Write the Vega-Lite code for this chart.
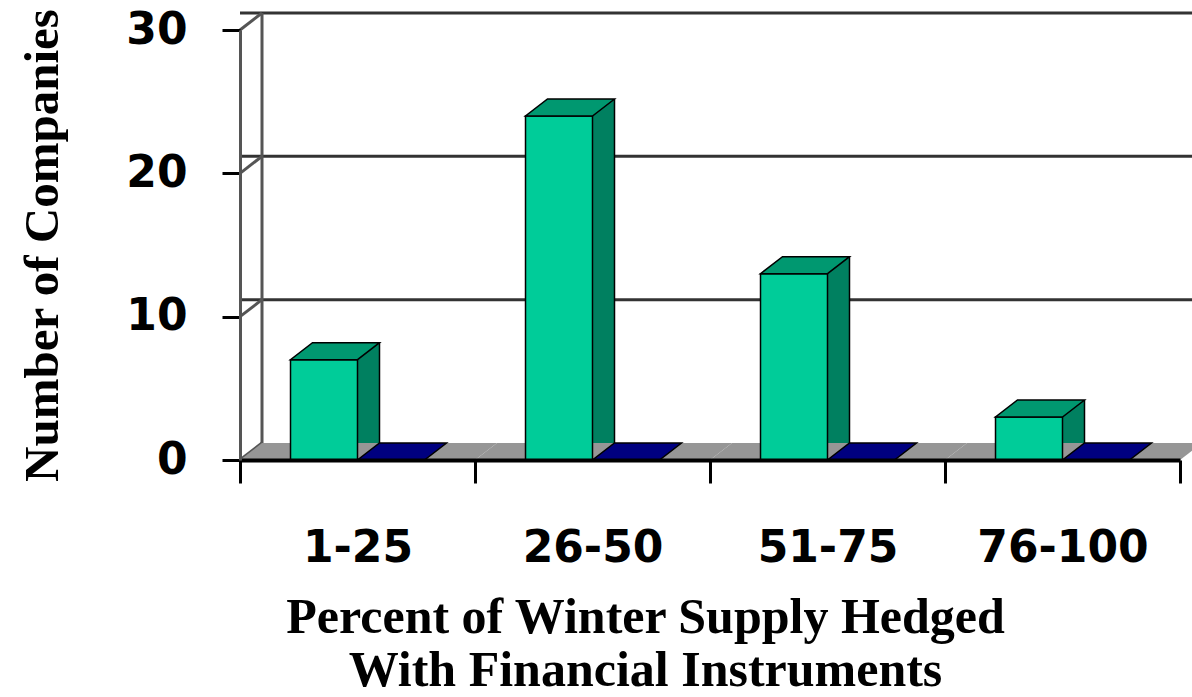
{
  "$schema": "https://vega.github.io/schema/vega-lite/v6.json",
  "width": 940,
  "height": 430,
  "autosize": {"type": "none"},
  "padding": {"left": 240, "top": 30, "right": 12, "bottom": 237},
  "background": "white",
  "config": {
    "view": {"stroke": null},
    "axis": {"grid": false}
  },
  "data": {
    "values": [
      {"range": "1-25", "series": "Series 1", "value": 7},
      {"range": "1-25", "series": "Series 2", "value": 0},
      {"range": "26-50", "series": "Series 1", "value": 24},
      {"range": "26-50", "series": "Series 2", "value": 0},
      {"range": "51-75", "series": "Series 1", "value": 13},
      {"range": "51-75", "series": "Series 2", "value": 0},
      {"range": "76-100", "series": "Series 1", "value": 3},
      {"range": "76-100", "series": "Series 2", "value": 0}
    ]
  },
  "layer": [
    {
      "data": {"values": [{"v": 10}, {"v": 20}, {"v": 30}]},
      "mark": {"type": "rule", "stroke": "#333333", "strokeWidth": 3, "xOffset": 22, "x2Offset": 22, "yOffset": -17},
      "encoding": {
        "y": {"field": "v", "type": "quantitative", "scale": {"domain": [0, 30], "nice": false}}
      }
    },
    {
      "data": {"values": [{"v": 0}]},
      "mark": {"type": "rule", "stroke": "#555555", "strokeWidth": 3, "xOffset": 22, "yOffset": -17, "y2Offset": -17},
      "encoding": {
        "x": {"datum": "1-25", "bandPosition": 0},
        "y": {"datum": 0, "type": "quantitative"},
        "y2": {"datum": 30}
      }
    },
    {
      "data": {"values": [{"v": 0}, {"v": 10}, {"v": 20}, {"v": 30}]},
      "mark": {"type": "point", "shape": "M 0 0 L 22 -17", "size": 4, "filled": false, "stroke": "#555555", "strokeWidth": 3, "opacity": 1},
      "encoding": {
        "x": {"datum": "1-25", "bandPosition": 0},
        "y": {"field": "v", "type": "quantitative"}
      }
    },
    {
      "transform": [{"filter": "datum.series === 'Series 1'"}],
      "mark": {"type": "point", "shape": "M -117.5 0 L 117.5 0 L 139.5 -17 L -95.5 -17 Z", "size": 4, "filled": true, "fill": "#969696", "strokeWidth": 0, "opacity": 1},
      "encoding": {
        "x": {"field": "range", "type": "nominal", "sort": null},
        "y": {"datum": 0, "type": "quantitative"}
      }
    },
    {
      "transform": [{"filter": "datum.series === 'Series 1' && datum.value > 0"}],
      "mark": {"type": "bar", "width": 22, "xOffset": 11, "yOffset": -17, "fill": "#008060"},
      "encoding": {
        "x": {"field": "range", "type": "nominal", "sort": null},
        "y": {"field": "value", "type": "quantitative"}
      }
    },
    {
      "mark": {"type": "bar", "stroke": "black", "strokeWidth": 1.5},
      "encoding": {
        "x": {
          "field": "range", "type": "nominal", "sort": null,
          "scale": {"paddingInner": 0, "paddingOuter": 0},
          "axis": {
            "orient": "bottom",
            "zindex": 1,
            "domainColor": "black", "domainWidth": 4,
            "tickColor": "black", "tickWidth": 3, "tickSize": 23, "tickBand": "extent",
            "labelFont": "DejaVu Sans", "labelFontWeight": "bold", "labelFontSize": 44,
            "labelColor": "black", "labelPadding": 65, "labelAngle": 0, "labelAlign": "center",
            "title": ["Percent of Winter Supply Hedged", "With Financial Instruments"],
            "titleFont": "Liberation Serif", "titleFontWeight": "bold", "titleFontSize": 50,
            "titleLineHeight": 53, "titleColor": "black", "titlePadding": 22, "titleX": 405
          }
        },
        "xOffset": {
          "field": "series", "type": "nominal",
          "scale": {"paddingInner": 0, "paddingOuter": 0.754}
        },
        "y": {
          "field": "value", "type": "quantitative",
          "axis": {
            "zindex": 1,
            "values": [0, 10, 20, 30],
            "domainColor": "#555555", "domainWidth": 3,
            "tickColor": "black", "tickWidth": 3, "tickSize": 18,
            "labelFont": "DejaVu Sans", "labelFontWeight": "bold", "labelFontSize": 44,
            "labelColor": "black", "labelPadding": 35,
            "title": "Number of Companies",
            "titleFont": "Liberation Serif", "titleFontWeight": "bold", "titleFontSize": 49,
            "titleColor": "black", "titlePadding": 58
          }
        },
        "color": {
          "field": "series", "type": "nominal",
          "scale": {"domain": ["Series 1", "Series 2"], "range": ["#00CC99", "#000080"]},
          "legend": null
        }
      }
    },
    {
      "mark": {"type": "point", "shape": "M -33.5 0 L 33.5 0 L 55.5 -17 L -11.5 -17 Z", "size": 4, "filled": true, "stroke": "black", "strokeWidth": 1.5, "opacity": 1},
      "encoding": {
        "x": {"field": "range", "type": "nominal", "sort": null},
        "xOffset": {"field": "series", "type": "nominal"},
        "y": {"field": "value", "type": "quantitative"},
        "fill": {
          "field": "series", "type": "nominal",
          "scale": {"domain": ["Series 1", "Series 2"], "range": ["#009870", "#000080"]},
          "legend": null
        }
      }
    },
    {
      "transform": [{"filter": "datum.series === 'Series 1' && datum.value > 0"}],
      "mark": {"type": "rule", "stroke": "black", "strokeWidth": 1.5, "xOffset": 22, "yOffset": -17, "y2Offset": -17},
      "encoding": {
        "x": {"field": "range", "type": "nominal", "sort": null},
        "y": {"field": "value", "type": "quantitative"},
        "y2": {"datum": 0}
      }
    }
  ]
}
